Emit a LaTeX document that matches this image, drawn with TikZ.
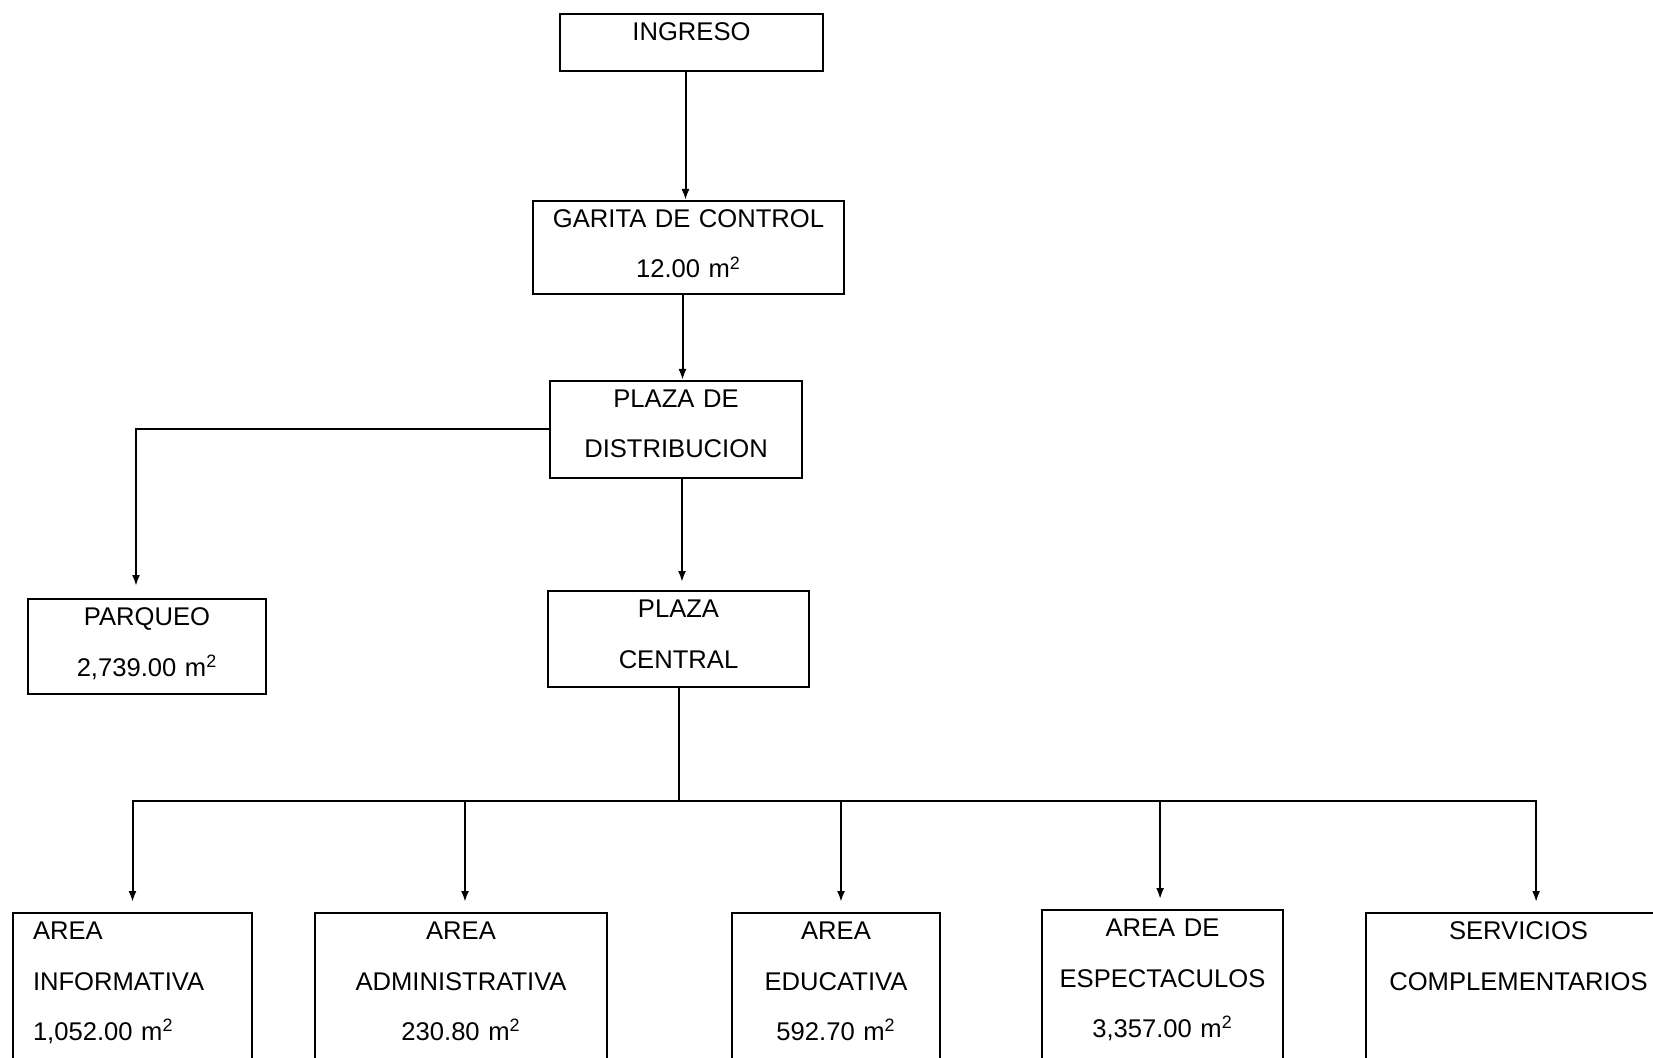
\documentclass[tikz,border=0pt]{standalone}
\usepackage{fontspec}
\setmainfont{Liberation Sans}
\usepackage{tikz}
\usetikzlibrary{arrows.meta,shapes}
\tikzstyle{box}=[draw,line width=1pt,anchor=north west,inner xsep=0pt,inner ysep=4pt,text height=9.2pt,align=center,font={\fontsize{12.8pt}{25.3pt}\selectfont}]
\tikzstyle{edge}=[draw,line width=1pt,-]
\tikzstyle{arrow}=[draw,line width=1pt,-{Latex[length=5.5pt,width=4pt]}]
\newcommand{\metros}{m\textsuperscript{2}}

\begin{document}
\begin{tikzpicture}[x=0.5pt,y=-0.5pt]
    \useasboundingbox (0,0) rectangle (1653,1058);
    % First we draw the boxes
    \node[box,text width=131.5pt,text depth=11.3pt] (ingreso) at (559,13) {INGRESO};
    \node[box,text width=155.5pt,text depth=29.3pt] (garita) at (532,200) {GARITA DE CONTROL\\12.00 \metros};
    \node[box,text width=126pt,text depth=31.3pt] (distribucion) at (549,380) {PLAZA DE\\DISTRIBUCION};
    \node[box,text width=119pt,text depth=30.3pt] (parqueo) at (27,598) {PARQUEO\\2,739.00 \metros};
    \node[box,text width=130.5pt,text depth=30.8pt] (central) at (547,590) {PLAZA\\CENTRAL};
    % Bottom row, cut by the lower edge
    \node[box,align=left,inner xsep=10pt,text width=99.5pt,text depth=76.8pt] (informativa) at (12,912) {AREA\\INFORMATIVA\\1,052.00 \metros};
    \foreach \pos/\bw/\name/\txt in {{(314,912)/146pt/administrativa/{AREA\\ADMINISTRATIVA\\230.80 \metros}},
                                    {(731,912)/104pt/educativa/{AREA\\EDUCATIVA\\592.70 \metros}},
                                    {(1041,909)/120.5pt/espectaculos/{AREA DE\\ESPECTACULOS\\3,357.00 \metros}},
                                    {(1365,912)/152.5pt/servicios/{SERVICIOS\\COMPLEMENTARIOS}}}
        \node[box,text width=\bw,text depth=76.8pt] (\name) at \pos {\txt};
    % Connect boxes with arrows
    \path[arrow] ([xshift=-3pt]ingreso.south) -- ([xshift=-3pt]ingreso.south |- garita.north);
    \path[arrow] ([xshift=-3pt]garita.south) -- ([xshift=-3pt]garita.south |- distribucion.north);
    \path[arrow,shorten >=4pt] ([xshift=3pt]distribucion.south) -- ([xshift=3pt]distribucion.south |- central.north);
    \path[arrow,shorten >=6pt] (distribucion.west) -| ([xshift=-5.5pt]parqueo.north);
    \path (central.south) ++(0,113) coordinate (bus);
    \path[edge] (central.south) -- (bus);
    \foreach \dest/\dx in {informativa/0pt, administrativa/2pt, educativa/2.5pt, espectaculos/-1.2pt, servicios/8.8pt}
        \path[arrow,shorten >=5pt] (bus) -| ([xshift=\dx]\dest.north);
\end{tikzpicture}
\end{document}
